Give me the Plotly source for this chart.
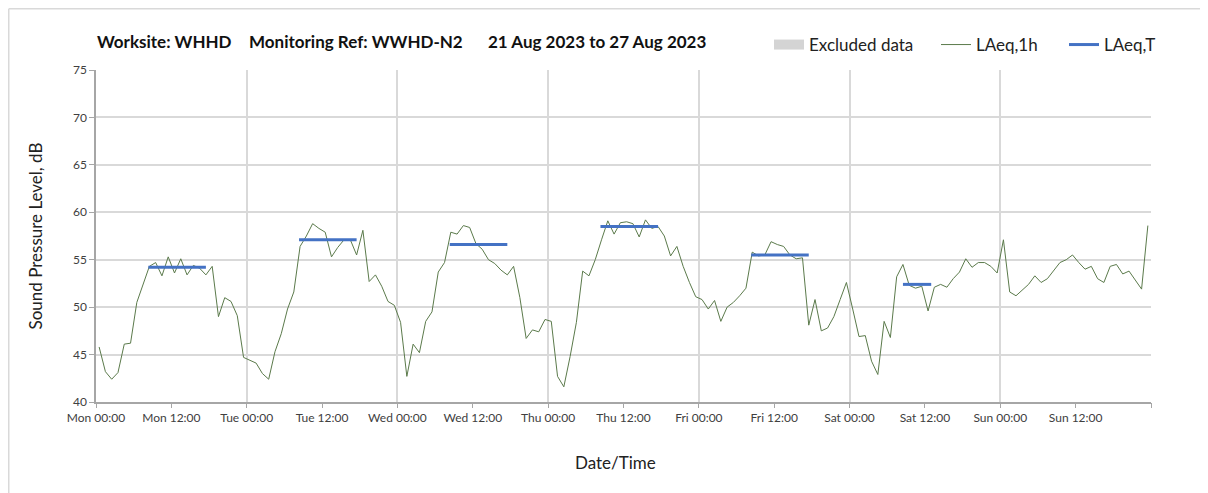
import plotly.graph_objects as go
import pandas as pd

# ---------------- data ----------------
start = "2023-08-21 00:30"
laeq_1h = [
    45.8, 43.2, 42.4, 43.1, 46.1, 46.2, 50.5, 52.5, 54.3, 54.7, 53.3, 55.3, 53.6, 55.1, 53.4, 54.4, 54.1, 53.4, 54.3, 49.0, 51.0, 50.6, 49.1, 44.7,
    44.4, 44.1, 43.0, 42.4, 45.3, 47.2, 49.8, 51.6, 56.4, 57.5, 58.8, 58.3, 57.9, 55.3, 56.3, 57.1, 57.1, 55.5, 58.1, 52.7, 53.4, 52.2, 50.6, 50.2,
    48.4, 42.7, 46.1, 45.2, 48.5, 49.5, 53.7, 54.7, 57.9, 57.7, 58.6, 58.4, 56.7, 56.1, 55.0, 54.6, 53.9, 53.4, 54.3, 51.0, 46.7, 47.6, 47.4, 48.7,
    48.5, 42.7, 41.6, 44.8, 48.4, 53.8, 53.3, 55.0, 57.1, 59.1, 57.7, 58.9, 59.0, 58.8, 57.4, 59.2, 58.3, 58.5, 57.5, 55.4, 56.4, 54.3, 52.6, 51.1,
    50.8, 49.8, 50.7, 48.5, 50.0, 50.5, 51.2, 52.0, 55.8, 55.4, 55.5, 56.9, 56.6, 56.4, 55.5, 55.1, 55.2, 48.1, 50.8, 47.5, 47.8, 49.0, 50.8, 52.6,
    49.8, 46.9, 47.0, 44.3, 42.9, 48.5, 46.8, 53.2, 54.5, 52.3, 52.0, 52.2, 49.6, 52.1, 52.4, 52.1, 53.0, 53.7, 55.1, 54.2, 54.7, 54.7, 54.3, 53.6,
    57.1, 51.6, 51.2, 51.8, 52.4, 53.3, 52.6, 53.0, 53.9, 54.7, 55.0, 55.5, 54.7, 54.0, 54.3, 53.0, 52.6, 54.3, 54.5, 53.5, 53.8, 52.8, 51.9, 58.6,
]
period_start = ["2023-08-21 08:20", "2023-08-22 08:20", "2023-08-23 08:20",
                "2023-08-24 08:20", "2023-08-25 08:20", "2023-08-26 08:30"]
period_end = ["2023-08-21 17:30", "2023-08-22 17:30", "2023-08-23 17:30",
              "2023-08-24 17:30", "2023-08-25 17:30", "2023-08-26 13:00"]
laeq_t = [54.2, 57.1, 56.6, 58.5, 55.5, 52.4]

x_range = ["2023-08-21 00:00", "2023-08-28 00:00"]
title_parts = ["Worksite: WHHD", "Monitoring Ref: WWHD-N2", "21 Aug 2023 to 27 Aug 2023"]
x_title = "Date/Time"
y_title = "Sound Pressure Level, dB"

times = pd.date_range(start=start, periods=len(laeq_1h), freq="h")
label_ticks = pd.date_range(start=x_range[0], periods=14, freq="12h")
all_ticks = pd.date_range(start=x_range[0], end=x_range[1], freq="12h")
tick_text = [t.strftime("%a %H:%M") for t in label_ticks] + [""] * (len(all_ticks) - len(label_ticks))

bx, by = [], []
for s, e, v in zip(period_start, period_end, laeq_t):
    bx += [s, e, None]
    by += [v, v, None]

FONT = "Lato"
OFF = 8  # page body margin
W, H = 1200, 485
ml, mr, mt, mb = 88, 57, 62, 91
pw, ph = W - ml - mr, H - mt - mb

fig = go.Figure()
fig.add_trace(go.Scatter(x=[None], y=[None], mode="lines", name="Excluded data",
                         line=dict(color="#d4d4d4", width=10), legend="legend",
                         showlegend=True, hoverinfo="skip"))
fig.add_trace(go.Scatter(x=times, y=laeq_1h, mode="lines", name="LAeq,1h",
                         line=dict(color="#5b7a4b", width=1), legend="legend2",
                         showlegend=True))
fig.add_trace(go.Scatter(x=bx, y=by, mode="lines", name="LAeq,T", xaxis="x2",
                         line=dict(color="#4472c4", width=3), legend="legend3",
                         showlegend=True))

def px2x(p):  # p: page pixel x
    return (p - OFF - ml) / pw

def py2y(p):  # p: page pixel y
    return (H - mb - (p - OFF)) / ph

leg_common = dict(orientation="h", yanchor="middle", y=py2y(45), xanchor="left",
                  font=dict(family=FONT, size=17, color="#222222"),
                  bgcolor="rgba(0,0,0,0)", borderwidth=0)

fig.update_layout(
    width=W, height=H,
    margin=dict(l=ml, r=mr, t=mt, b=mb, autoexpand=False),
    paper_bgcolor="white", plot_bgcolor="white",
    showlegend=True,
    font=dict(family=FONT, size=12, color="#404040"),
    legend=dict(leg_common, x=px2x(769)),
    legend2=dict(leg_common, x=px2x(936)),
    legend3=dict(leg_common, x=px2x(1064)),
    xaxis=dict(range=x_range, type="date", dtick=86400000, tick0="2023-08-21",
               showgrid=True, gridcolor="#d9d9d9", gridwidth=1.5,
               showticklabels=False, ticks="", showline=True, automargin=False,
               linecolor="#a6a6a6", linewidth=1.5, zeroline=False),
    xaxis2=dict(range=x_range, type="date", overlaying="x", side="bottom", anchor="y",
                tickmode="array", tickvals=all_ticks, ticktext=tick_text,
                ticks="outside", ticklen=5, tickcolor="#a6a6a6", tickwidth=1,
                showgrid=False, showline=False, zeroline=False, automargin=False,
                tickfont=dict(family=FONT, size=12, color="#404040")),
    yaxis=dict(range=[40, 75], dtick=5, ticks="outside", ticklen=5, automargin=False,
               tickcolor="#a6a6a6", showgrid=True, gridcolor="#d9d9d9", gridwidth=1.5,
               showline=True, linecolor="#a6a6a6", linewidth=1.5, zeroline=False,
               tickfont=dict(family=FONT, size=12, color="#404040"),
               title=dict(text=y_title, standoff=26,
                          font=dict(family=FONT, size=17, color="#222222"))),
)

# x-axis title
fig.add_annotation(text=x_title, xref="paper", yref="paper", x=px2x(615), y=py2y(462),
                   xanchor="center", yanchor="middle", showarrow=False,
                   font=dict(family=FONT, size=17, color="#222222"))

# title pieces
for txt, xp in zip(title_parts, [95, 247, 486]):
    fig.add_annotation(text="<b>" + txt + "</b>", xref="paper", yref="paper",
                       x=px2x(xp), y=py2y(41), xanchor="left", yanchor="middle",
                       showarrow=False, font=dict(family=FONT, size=17, color="#111111"))

# outer frame (left and top edges)
fx = (0.75 - ml) / pw
fy = (H - mb - 0.75) / ph
fig.add_shape(type="line", xref="paper", yref="paper", x0=fx, x1=fx,
              y0=fy, y1=-mb / ph - 0.05, line=dict(color="#d9d9d9", width=1.5))
fig.add_shape(type="line", xref="paper", yref="paper", x0=fx, x1=(W + 5 - ml) / pw,
              y0=fy, y1=fy, line=dict(color="#d9d9d9", width=1.5))

fig.write_html("out.html")
